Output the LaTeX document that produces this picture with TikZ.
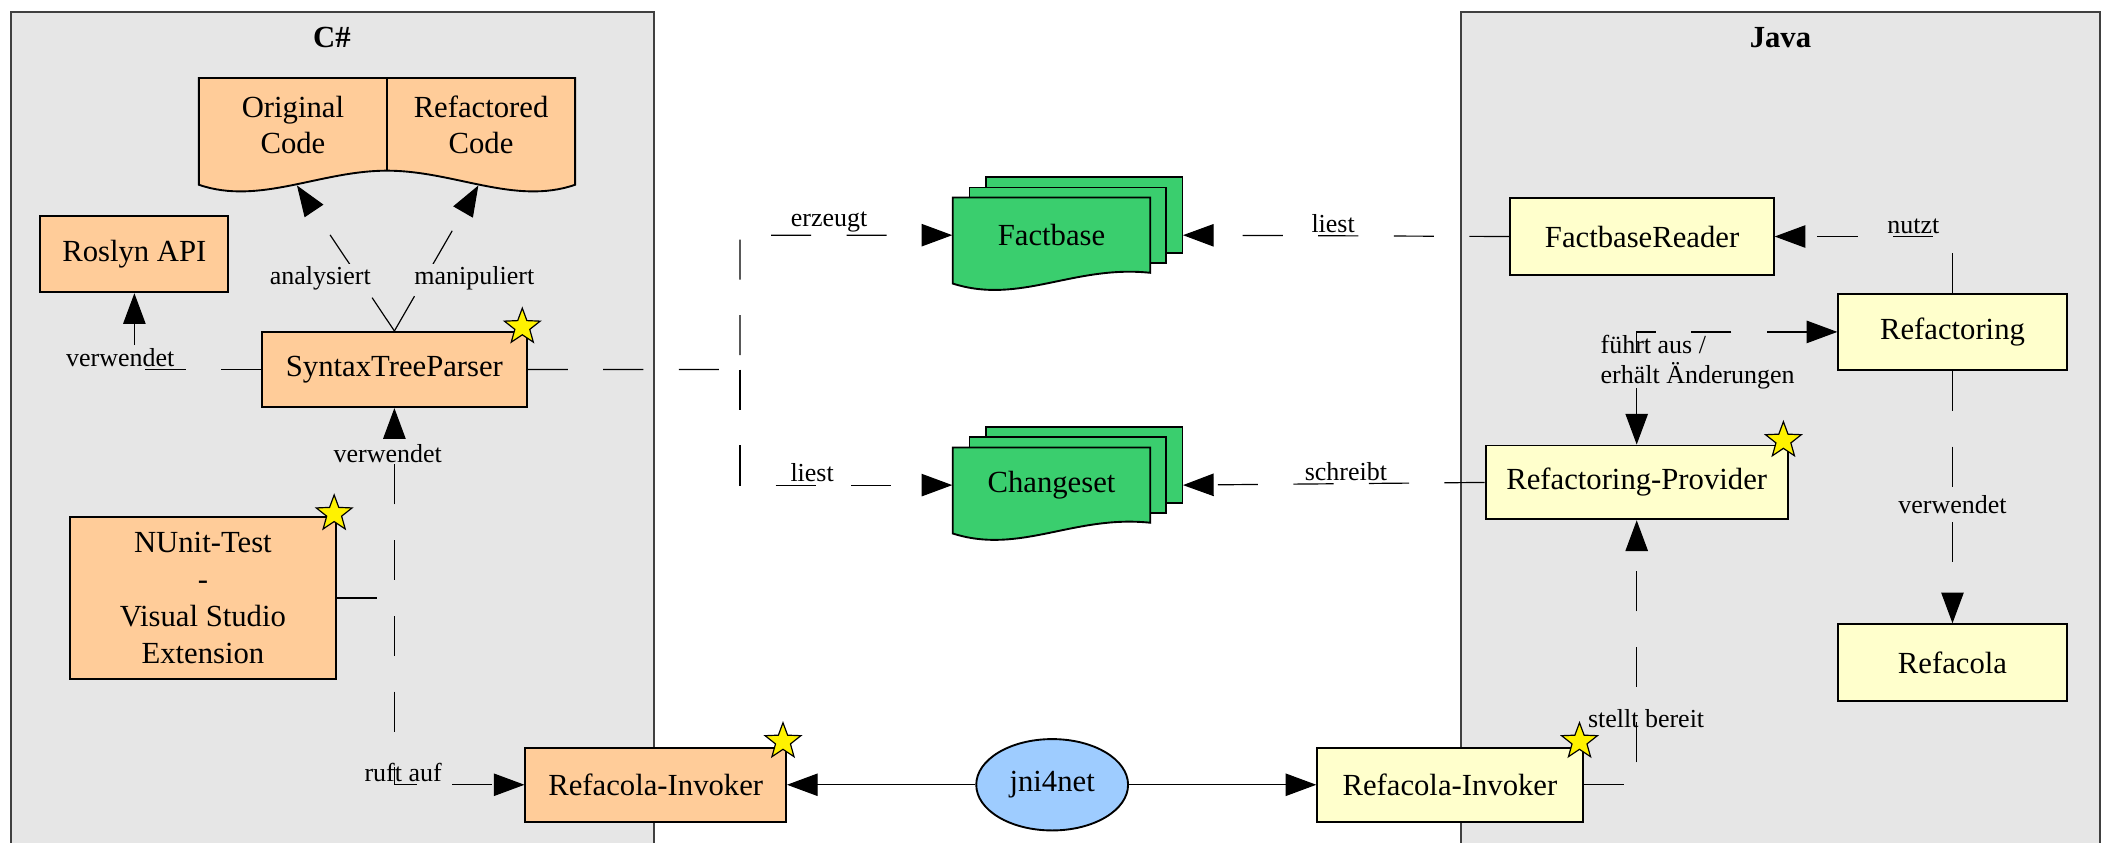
\documentclass[tikz,border=0pt]{standalone}
\usepackage{fontspec}
\setmainfont{Liberation Serif}
\usetikzlibrary{arrows.meta,shapes.geometric,calc}
\definecolor{panelgray}{RGB}{230,230,230}
\definecolor{cspeach}{RGB}{255,204,153}
\definecolor{javayellow}{RGB}{255,255,204}
\definecolor{filegreen}{RGB}{58,206,110}
\definecolor{bridgeblue}{RGB}{158,204,255}
\begin{document}
\begin{tikzpicture}[x=0.02cm, y=-0.02cm,
    box/.style={draw, line width=0.8pt, minimum height=1.12cm, inner sep=0pt, align=center, font=\fontsize{13}{15}\selectfont},
    csbox/.style={box, fill=cspeach},
    jbox/.style={box, fill=javayellow},
    doc/.style={draw, line width=0.8pt, fill=filegreen},
    dep/.style={line width=0.5pt, dash pattern=on 17pt off 15pt, -{Triangle[length=13pt,width=9.5pt]}},
    both/.style={dep, {Triangle[length=13pt,width=9.5pt]}-{Triangle[length=13pt,width=9.5pt]}},
    call/.style={line width=0.5pt, -{Triangle[length=13pt,width=9.5pt]}},
    lbl/.style={font=\fontsize{11}{13}\selectfont, inner sep=1pt},
    lblf/.style={lbl, fill=panelgray},
    starmark/.style={star, star points=5, star point ratio=2.4, minimum size=0.56cm, inner sep=0pt, draw, line width=0.5pt, fill=yellow}]
\useasboundingbox (0,0) rectangle (1568,627);
% panels
\filldraw[fill=panelgray, draw=black!75, line width=0.8pt] (8,9) rectangle (487,660);
\filldraw[fill=panelgray, draw=black!75, line width=0.8pt] (1087,9) rectangle (1563,660);
\node[font=\bfseries\fontsize{13}{15}\selectfont] (cstitle) at (247,28) {C\#};
\node[font=\bfseries\fontsize{13}{15}\selectfont] (jtitle) at (1325,28) {Java};
% original / refactored code
\filldraw[fill=cspeach, line width=0.8pt] (148,58) -- (428,58) -- (428,137.5) .. controls (383,153) and (338,127) .. (288,127) .. controls (238,127) and (193,153) .. (148,137.5) -- cycle;
\draw[line width=0.8pt] (288,58) -- (288,127);
\node[font=\fontsize{13}{15}\selectfont, align=center] (origcode) at (218,93) {Original\\Code};
\node[font=\fontsize{13}{15}\selectfont, align=center] (newcode) at (358,93) {Refactored\\Code};
\coordinate (origin) at (221,138);
\coordinate (newin) at (356,138);
% factbase and changeset stacks
\begin{scope}[shift={(782.5,175)}]
  \filldraw[doc] (-49,-43) rectangle (97.5,13.5);
  \filldraw[doc] (-61,-35.5) rectangle (85.5,21);
  \filldraw[doc] (-73.5,-28) -- (73.5,-28) -- (73.5,28) .. controls (16.5,22) and (-23.5,52) .. (-73.5,36) -- cycle;
\end{scope}
\begin{scope}[shift={(782.5,361)}]
  \filldraw[doc] (-49,-43) rectangle (97.5,13.5);
  \filldraw[doc] (-61,-35.5) rectangle (85.5,21);
  \filldraw[doc] (-73.5,-28) -- (73.5,-28) -- (73.5,28) .. controls (16.5,22) and (-23.5,52) .. (-73.5,36) -- cycle;
\end{scope}
\node[font=\fontsize{13}{15}\selectfont, minimum width=2.94cm, minimum height=1.12cm, inner sep=0pt] (fb) at (782.5,175) {Factbase};
\node[font=\fontsize{13}{15}\selectfont, minimum width=2.94cm, minimum height=1.12cm, inner sep=0pt] (cs) at (782.5,361) {Changeset};
\coordinate (fbback) at ($(fb.east)+(24,0)$);
\coordinate (csback) at ($(cs.east)+(24,0)$);
% C# side
\node[csbox, minimum width=2.8cm, minimum height=1.14cm] (roslyn) at (100,189) {Roslyn API};
\node[csbox, minimum width=3.94cm] (syntax) at (293.5,275) {SyntaxTreeParser};
\node[csbox, minimum width=3.96cm, minimum height=2.4cm, font=\fontsize{13}{15.6}\selectfont] (nunit) at (151,445) {NUnit-Test\\-\\Visual Studio\\Extension};
\node[csbox, minimum width=3.88cm, minimum height=1.1cm] (cinv) at (488,584) {Refacola-Invoker};
\node[ellipse, draw, fill=bridgeblue, line width=0.8pt, minimum width=2.26cm, minimum height=1.36cm, inner sep=0pt, font=\fontsize{13}{15}\selectfont] (jni) at (783,584) {jni4net};
% Java side
\node[jbox, minimum width=3.95cm, minimum height=1.1cm] (jinv) at (1079,584) {Refacola-Invoker};
\node[jbox, minimum width=4.5cm, minimum height=1.1cm] (provider) at (1218,359) {Refactoring-Provider};
\node[jbox, minimum width=3.4cm, minimum height=1.14cm] (refacola) at (1453,493) {Refacola};
\node[jbox, minimum width=3.4cm, minimum height=1.14cm] (refac) at (1453,247) {Refactoring};
\node[jbox, minimum width=3.92cm, minimum height=1.14cm] (fbreader) at (1222,176) {FactbaseReader};
\coordinate (split) at ($(syntax.east)!0.5!(fb.west |- syntax.east)$);
% connectors
\draw[dep] (syntax.west) -| (roslyn.south) node[lbl, pos=0.5, above, xshift=-6pt] {verwendet};
\draw[dep] (syntax.north) -- (origin) node[lblf, pos=0.36, xshift=-0.58cm] {analysiert};
\draw[dep] (syntax.north) -- (newin) node[lblf, pos=0.36, xshift=0.74cm] {manipuliert};
\draw[dep] (nunit.east) -| (syntax.south) node[lbl, pos=0.88, xshift=-0.1cm] {verwendet};
\draw[dep] (nunit.east) -| (syntax.south |- cinv.west) node[lbl, above, xshift=0.13cm] {ruft auf} -- (cinv.west);
\draw[dep] (syntax.east) -- (split) |- (fb.west) node[lbl, pos=0.71, above] {erzeugt};
\draw[dep] (split) |- (cs.west) node[lbl, pos=0.67, above] {liest};
\draw[dep] (fbreader.west) -- (fbback) node[lbl, pos=0.54, above] {liest};
\draw[dep] (provider.west) -- (csback) node[lbl, pos=0.46, above] {schreibt};
\draw[dep] (refac.north) |- (fbreader.east) node[lbl, pos=0.61, above] {nutzt};
\draw[both] (refac.west) -| (provider.north) node[lbl, pos=0.5, anchor=north west, align=left, xshift=-0.58cm] {führt aus /\\erhält Änderungen};
\draw[dep] (refac.south) -- (refacola.north) node[lblf, pos=0.53] {verwendet};
\draw[dep] (jinv.east) -| (provider.south) node[lbl, pos=0.625, xshift=0.14cm] {stellt bereit};
\draw[call] (jni.west) -- (cinv.east);
\draw[call] (jni.east) -- (jinv.west);
% stars
\node[starmark] (syntaxstar) at ($(syntax.north east)+(-4,-3)$) {};
\node[starmark] (nunitstar) at ($(nunit.north east)+(-2,-2)$) {};
\node[starmark] (cinvstar) at ($(cinv.north east)+(-3,-4)$) {};
\node[starmark] (jinvstar) at ($(jinv.north east)+(-3,-4)$) {};
\node[starmark] (providerstar) at ($(provider.north east)+(-4,-3)$) {};
\end{tikzpicture}
\end{document}
